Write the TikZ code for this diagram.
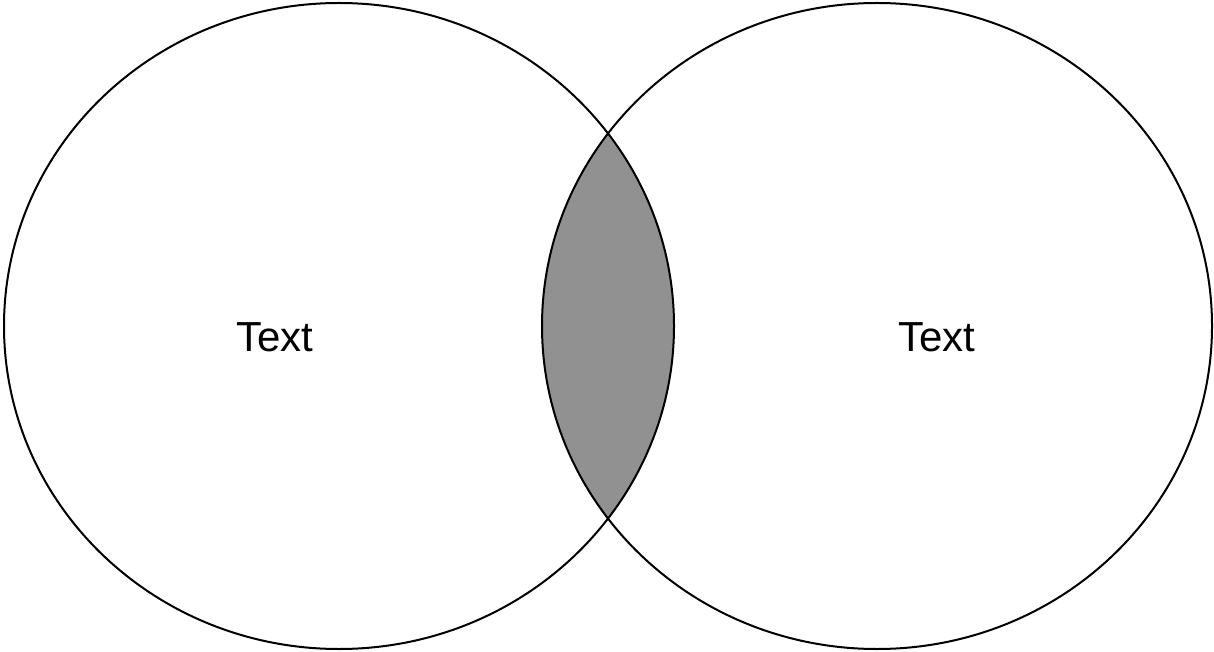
\documentclass[tikz,border=0pt]{standalone}
\usepackage{fontspec}
\setmainfont{Liberation Sans}
\usetikzlibrary{positioning}

\begin{document}
\begin{tikzpicture}[
        x=1pt, y=-1pt,
        setLine/.style={draw=black, line width=2pt},
        setLabel/.style={font=\fontsize{42}{50}\selectfont, inner sep=0pt}
    ]
        \useasboundingbox (0,0) rectangle (1214,652);

        % Overlap
        \begin{scope}
            \clip (339,326) ellipse [x radius=335, y radius=323];
            \fill[fill={rgb,255:red,145;green,145;blue,145}] (877,326) ellipse [x radius=335, y radius=323];
        \end{scope}

        % Sets
        \draw [setLine] (339,326) ellipse [x radius=335, y radius=323];
        \draw [setLine] (877,326) ellipse [x radius=335, y radius=323];

        % Labels
        \node (leftText) [setLabel] at (275,337) {Text};
        \node (rightText) [setLabel] at (937,337) {Text};
    \end{tikzpicture}
\end{document}
